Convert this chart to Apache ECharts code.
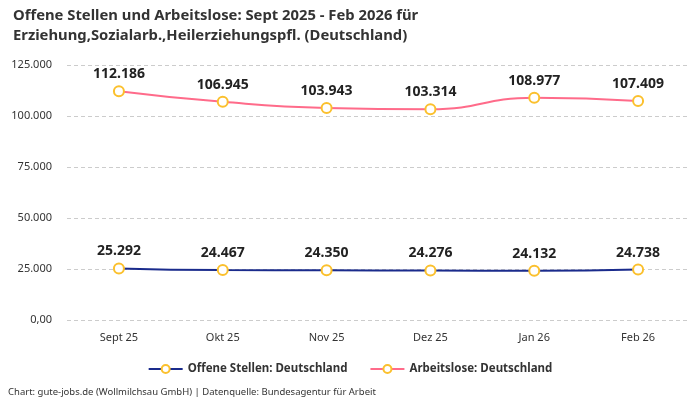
<!DOCTYPE html>
<html><head><meta charset="utf-8">
<script src="https://cdn.jsdelivr.net/npm/echarts@6/dist/echarts.min.js"></script>
<style>html,body{margin:0;padding:0;background:#fff}#c{width:700px;height:400px}</style>
</head><body><div id="c"></div>
<script>
const categories = ['Sept 25','Okt 25','Nov 25','Dez 25','Jan 26','Feb 26'];
const offeneStellen = [25292, 24467, 24350, 24276, 24132, 24738];
const arbeitslose = [112186, 106945, 103943, 103314, 108977, 107409];
const seriesNames = ['Offene Stellen: Deutschland','Arbeitslose: Deutschland'];
const FONT = '"Noto Sans", "DejaVu Sans", sans-serif';
function fmt(v){
  if (v === 0) return '0,00';
  return String(Math.round(v)).replace(/\B(?=(\d{3})+(?!\d))/g,'.');
}
const chart = echarts.init(document.getElementById('c'));
const sym = {symbol:'circle', symbolSize:10, itemStyle:{color:'#fff', borderColor:'#fbc02d', borderWidth:2}};
chart.setOption({
  animation:false,
  textStyle:{fontFamily:FONT},
  title:{
    text:'Offene Stellen und Arbeitslose: Sept 2025 - Feb 2026 für\nErziehung,Sozialarb.,Heilerziehungspfl. (Deutschland)',
    left:8, top:1,
    textStyle:{fontSize:14.8, fontWeight:'bold', color:'#333', lineHeight:20, fontFamily:FONT}
  },
  legend:{
    bottom:20, left:'center', itemGap:22, itemWidth:34, itemHeight:10,
    textStyle:{fontSize:11.5, fontWeight:'bold', color:'#333'},
    data:seriesNames
  },
  graphic:[{type:'text', left:8, bottom:3, style:{text:'Chart: gute-jobs.de (Wollmilchsau GmbH) | Datenquelle: Bundesagentur für Arbeit', fontSize:9.5, fill:'#333', fontFamily:FONT}}],
  grid:{left:67, right:10, top:65, bottom:80},
  xAxis:{
    type:'category', data:categories, boundaryGap:true,
    axisLine:{show:false}, axisTick:{show:false},
    axisLabel:{fontSize:11, color:'#333', margin:12}
  },
  yAxis:{
    type:'value', min:0, max:125000, interval:25000,
    axisLine:{show:false}, axisTick:{show:false},
    axisLabel:{fontSize:11, color:'#333', margin:15, formatter:fmt},
    splitLine:{lineStyle:{type:[4,3], color:'#ccc'}}
  },
  series:[
    Object.assign({name:seriesNames[0], type:'line', smooth:true, data:offeneStellen,
      lineStyle:{color:'#1a2b8c', width:2},
      label:{show:true, position:'top', distance:4, fontSize:14, fontWeight:'bold', color:'#222', formatter:p=>fmt(p.value)}
    }, sym),
    Object.assign({name:seriesNames[1], type:'line', smooth:true, data:arbeitslose,
      lineStyle:{color:'#ff6b8a', width:2},
      label:{show:true, position:'top', distance:4, fontSize:14, fontWeight:'bold', color:'#222', formatter:p=>fmt(p.value)}
    }, sym)
  ],
  color:['#1a2b8c','#ff6b8a']
});
</script></body></html>
